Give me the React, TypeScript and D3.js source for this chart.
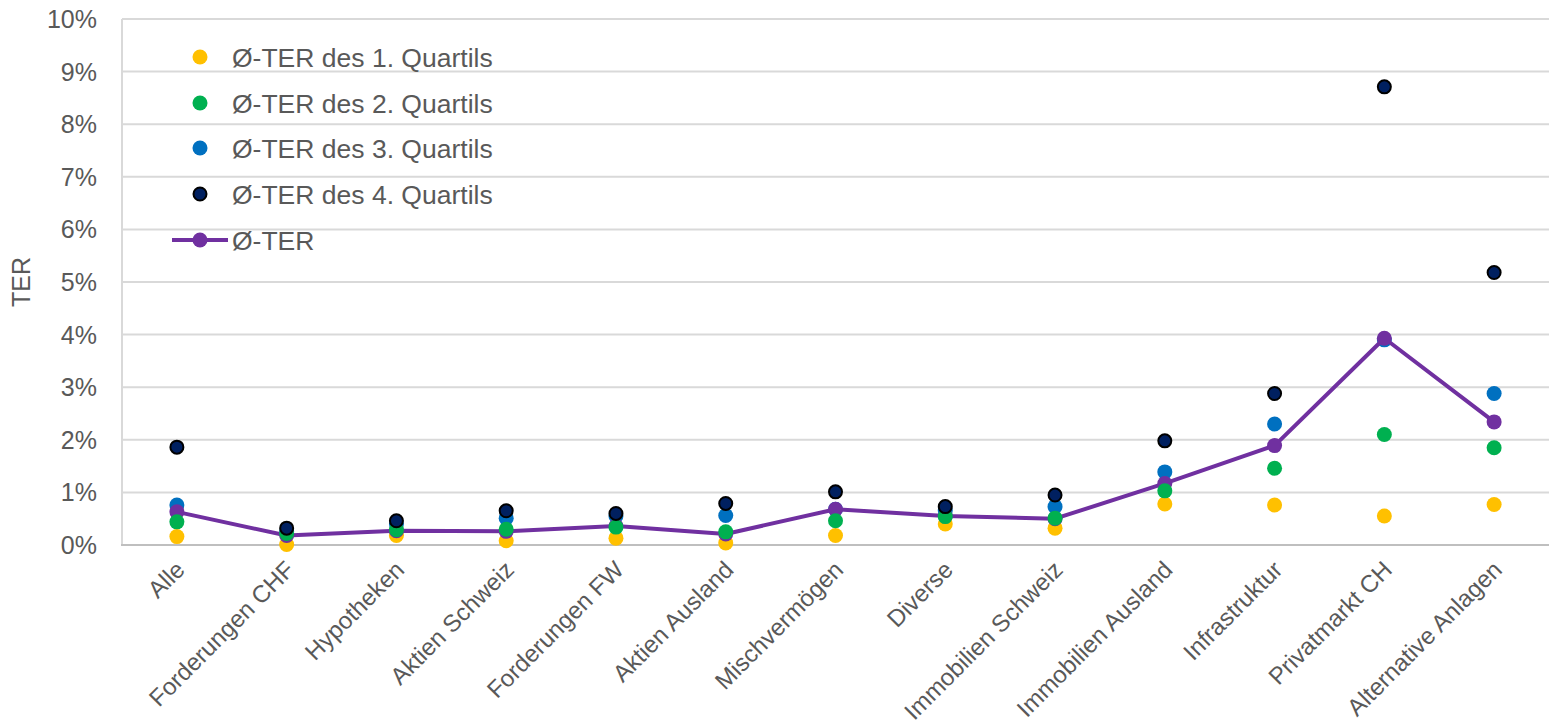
import React from "react";
import * as d3 from "d3";

const categories = [
  "Alle", "Forderungen CHF", "Hypotheken", "Aktien Schweiz", "Forderungen FW",
  "Aktien Ausland", "Mischvermögen", "Diverse", "Immobilien Schweiz",
  "Immobilien Ausland", "Infrastruktur", "Privatmarkt CH", "Alternative Anlagen",
];
const q1 = [0.16, 0.01, 0.18, 0.08, 0.13, 0.04, 0.18, 0.40, 0.32, 0.78, 0.76, 0.55, 0.77];
const q2 = [0.44, 0.22, 0.29, 0.30, 0.34, 0.25, 0.46, 0.54, 0.51, 1.03, 1.46, 2.10, 1.85];
const q3 = [0.76, 0.25, 0.40, 0.51, 0.55, 0.56, 0.68, 0.65, 0.73, 1.39, 2.30, 3.90, 2.88];
const q4 = [1.86, 0.32, 0.46, 0.65, 0.60, 0.79, 1.01, 0.73, 0.95, 1.98, 2.88, 8.71, 5.18];
const avg = [0.63, 0.18, 0.27, 0.26, 0.36, 0.21, 0.68, 0.55, 0.50, 1.17, 1.89, 3.93, 2.34];
const yTicks = [0, 1, 2, 3, 4, 5, 6, 7, 8, 9, 10];
const legendLabels = [
  "Ø-TER des 1. Quartils", "Ø-TER des 2. Quartils", "Ø-TER des 3. Quartils",
  "Ø-TER des 4. Quartils", "Ø-TER",
];

const W = 1552, H = 724;
const FONT = "'Liberation Sans', Arial, sans-serif";
const TXT = "#595959";
const C1 = "#FFC000", C2 = "#00B050", C3 = "#0070C0", C4 = "#002060", CA = "#7030A0";

export default function App() {
  const x = d3.scaleBand<string>().domain(categories).range([122, 1549]).padding(0);
  const cx = (i: number) => (x(categories[i]) as number) + x.bandwidth() / 2;
  const y = d3.scaleLinear().domain([0, 10]).range([545, 19]);
  const line = d3.line<number>().x((_, i) => cx(i)).y((d) => y(d));

  const dots = (vals: number[], color: string, stroke?: string) =>
    vals.map((v, i) => (
      <circle key={i} cx={cx(i)} cy={y(v)} r={stroke ? 6.5 : 7.5} fill={color}
        stroke={stroke || "none"} strokeWidth={stroke ? 2 : 0} />
    ));

  const legendColors = [C1, C2, C3, C4];
  const legendY = [57, 103, 148, 194, 240];

  return (
    <svg width={W} height={H} style={{ position: "absolute", left: 0, top: 0, background: "#fff" }}
      fontFamily={FONT}>
      {yTicks.map((t) => (
        <g key={t}>
          {t > 0 && <line x1={122} x2={1549} y1={y(t)} y2={y(t)} stroke="#d9d9d9" strokeWidth={2} />}
          <text x={97} y={y(t)} dy="0.36em" textAnchor="end" fontSize={25} fill={TXT}>{t}%</text>
        </g>
      ))}
      <line x1={122} x2={122} y1={19} y2={545} stroke="#d9d9d9" strokeWidth={2} />
      <line x1={121} x2={1549} y1={545} y2={545} stroke="#bfbfbf" strokeWidth={2} />
      <text transform={`translate(30,282) rotate(-90)`} textAnchor="middle" fontSize={25} fill={TXT}>TER</text>

      {categories.map((c, i) => (
        <text key={c} transform={`translate(${cx(i) - 3},${559}) rotate(-45)`} textAnchor="end"
          dy="0.72em" fontSize={24} fill={TXT}>{c}</text>
      ))}

      {dots(q1, C1)}
      {dots(q3, C3)}
      <path d={line(avg) || ""} fill="none" stroke={CA} strokeWidth={4} strokeLinejoin="round" />
      {dots(avg, CA)}
      {dots(q2, C2)}
      {dots(q4, C4, "#000")}

      {legendLabels.map((l, i) => (
        <g key={l}>
          {i === 4 && <line x1={172} x2={228} y1={legendY[i]} y2={legendY[i]} stroke={CA} strokeWidth={4} />}
          <circle cx={200} cy={legendY[i]} r={i === 3 ? 6.5 : 7.5} fill={i === 4 ? CA : legendColors[i]}
            stroke={i === 3 ? "#000" : "none"} strokeWidth={i === 3 ? 2 : 0} />
          <text x={232} y={legendY[i]} dy="0.36em" fontSize={26.5} fill={TXT}>{l}</text>
        </g>
      ))}
    </svg>
  );
}
